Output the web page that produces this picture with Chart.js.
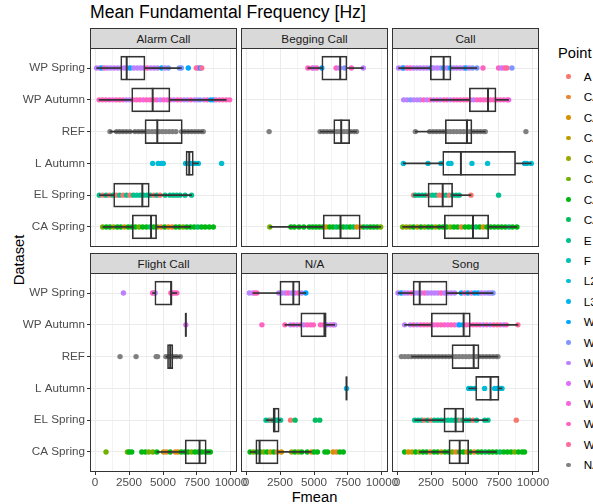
<!DOCTYPE html>
<html>
<head>
<meta charset="utf-8">
<script src="https://cdn.jsdelivr.net/npm/chart.js@4.4.1/dist/chart.umd.min.js"></script>
<style>
    body { margin: 0; background: #fff; overflow: hidden; }
    #root { position: relative; width: 593px; height: 504px; overflow: hidden; font-family: "Liberation Sans", Arial, sans-serif; }
    #root canvas { position: absolute; }
    .txt { position: absolute; white-space: nowrap; line-height: 1; }
    .strip { position: absolute; box-sizing: border-box; background: #D9D9D9; border: 1px solid #333; color: #1A1A1A;
             font-size: 11.7px; line-height: 19px; text-align: center; }
    .dot { position: absolute; width: 4.6px; height: 4.6px; border-radius: 50%; }
</style>
</head>
<body>
<div id="root">
    <div class="txt" style="left:90px; top:4.4px; font-size:17.6px; color:#000;">Mean Fundamental Frequency [Hz]</div>
    <div class="txt" style="left:19px; top:260px; font-size:14.7px; transform:translate(-50%,-50%) rotate(-90deg);">Dataset</div>
    <div class="txt" style="left:314.5px; top:490px; font-size:14.7px; transform:translateX(-50%);">Fmean</div>
    <div class="txt" style="left:558px; top:45.9px; font-size:14.7px;">Point</div>
</div>
<script>
const facetNames = ["Alarm Call", "Begging Call", "Call", "Flight Call", "N/A", "Song"];
const rowNames = ["WP Spring", "WP Autumn", "REF", "L Autumn", "EL Spring", "CA Spring"];
const pointNames = ["A", "CA1", "CA2", "CA3", "CA4", "CA5", "CA6", "CA7", "E", "F", "L2", "L3",
                    "WP1", "WP2", "WP3", "WP4", "WP5", "WP6", "WP7", "NA"];
const xTicks = [0, 1250, 2500, 3750, 5000, 6250, 7500, 8750, 10000];

// points, one list per dataset row: [Fmean, index in pointNames]
const alarmPts = [
    [[120,14],[350,14],[500,12],[700,17],[900,14],[1150,14],[1400,14],[1650,14],[1900,14],[2150,14],[2400,14],[2600,12],[2850,14],[3100,14],[3350,14],[3600,14],[3850,17],[4100,14],[4350,14],[4600,14],[4900,12],[5150,14],[5390,13],[6200,13],[6350,13],[6860,12],[7450,18],[7600,17],[7750,12],[7850,18]],
    [[300,17],[550,17],[800,17],[1050,17],[1300,16],[1550,17],[1800,17],[2050,17],[2300,14],[2550,14],[2800,17],[3050,17],[3300,17],[3550,16],[3800,17],[4050,17],[4300,17],[4550,17],[4800,14],[5050,17],[5300,16],[5550,17],[5800,14],[6050,17],[6300,17],[6550,14],[6800,14],[7050,17],[7300,14],[7500,14],[7720,13],[8010,14],[8250,17],[8500,12],[8700,12],[8900,17],[9150,17],[9400,17],[9650,17],[9900,17]],
    [[1100,19],[1590,19],[1800,19],[2050,19],[2300,19],[2570,19],[2940,19],[3200,19],[3450,19],[3700,19],[3950,19],[4200,19],[4450,19],[4700,19],[4950,19],[5200,19],[5450,19],[5700,19],[5950,19],[6370,19],[6600,19],[6850,19],[7100,19],[7350,19],[7600,19],[7850,19],[7960,19]],
    [[4240,10],[4650,10],[4900,11],[5020,10],[6660,10],[6900,10],[7150,11],[7350,10],[7600,10],[9310,10]],
    [[320,8],[570,0],[820,8],[1070,0],[1320,8],[1570,0],[1820,8],[2070,0],[2320,8],[2570,0],[2820,8],[3070,8],[3320,8],[3570,8],[3820,8],[4070,8],[4320,0],[4550,8],[4780,0],[5150,8],[5510,8],[5760,8],[6000,8],[6250,8],[6620,8],[7100,8]],
    [[560,5],[830,6],[1100,6],[1370,4],[1640,6],[1900,6],[2170,3],[2440,6],[2700,6],[2970,6],[3240,5],[3500,6],[3780,6],[4050,7],[4320,6],[4590,5],[4860,1],[5130,6],[5400,2],[5670,1],[5940,6],[6210,6],[6480,5],[6750,6],[7020,6],[7290,6],[7560,7],[7830,6],[8100,6],[8400,6],[8700,6]]
];
const beggingPts = [
    [[4550,17],[4875,17],[5000,14],[5200,17],[5575,12],[6625,17],[6875,14],[7250,13],[7750,17],[8625,14]],
    [],
    [[1700,19],[5450,19],[5700,19],[5950,19],[6200,19],[6450,19],[6700,19],[6950,19],[7200,19],[7450,19],[7700,19],[7950,19],[8125,19]],
    [],
    [],
    [[1750,5],[3300,6],[3550,6],[3900,6],[4250,6],[4650,6],[4900,6],[5150,6],[5400,6],[5650,6],[5900,2],[6150,6],[6400,6],[6650,7],[6900,6],[7150,6],[7400,7],[7650,6],[7900,7],[8150,2],[8400,1],[8650,6],[8900,7],[9150,6],[9400,6],[9650,6],[9900,5]]
];
const callPts = [
    [[120,14],[370,14],[490,12],[735,17],[980,17],[1220,14],[1470,14],[1710,14],[1960,14],[2200,14],[2450,14],[2520,12],[2700,14],[2950,14],[3200,14],[3430,12],[3680,14],[3920,12],[4160,14],[4400,14],[4650,14],[4900,14],[5070,12],[5300,14],[5550,13],[5880,13],[6320,17],[7470,17],[7700,14],[7900,17],[8085,18],[8450,13]],
    [[490,14],[740,14],[990,13],[1230,14],[1480,14],[1720,14],[1970,17],[2210,14],[2460,17],[2700,14],[2950,17],[3190,14],[3440,17],[3680,17],[3930,14],[4170,17],[4420,17],[4660,17],[4910,17],[5150,17],[5400,17],[5640,14],[5890,17],[6130,17],[6380,17],[6620,17],[6870,17],[7110,17],[7360,17],[7600,17],[7850,17],[8100,17],[8210,16]],
    [[1350,19],[2400,19],[2650,19],[2900,19],[3150,19],[3400,19],[3650,19],[3900,19],[4150,19],[4400,19],[4650,19],[4900,19],[5150,19],[5400,19],[5650,19],[5900,19],[6150,19],[6400,19],[6490,19],[9480,19]],
    [[465,10],[2280,10],[3230,10],[3800,10],[3970,10],[5510,10],[6660,10],[9380,11],[9550,10],[9870,10]],
    [[1225,0],[1350,8],[1600,8],[1850,8],[2100,8],[2350,0],[2600,8],[2850,8],[3100,0],[3350,0],[3600,8],[3850,0],[4100,8],[4350,8],[4580,8],[5440,0],[7470,8]],
    [[415,5],[680,4],[950,5],[1220,6],[1490,3],[1760,6],[2030,5],[2300,6],[2570,6],[2840,4],[3110,6],[3380,6],[3650,6],[3920,5],[4190,6],[4460,6],[4730,1],[5000,6],[5270,6],[5540,6],[5810,7],[6080,6],[6350,2],[6620,6],[6890,6],[7160,6],[7430,6],[7700,6],[7970,6],[8240,7],[8500,6],[8820,6]]
];
const flightPts = [
    [[2090,14],[4230,17],[4350,18],[4420,14],[5580,17],[5700,16],[5850,17],[6020,17]],
    [[6680,15]],
    [[1840,19],[3020,19],[4500,19],[4600,19],[5210,19],[5400,19],[5600,19],[5800,19],[6000,19],[6270,19]],
    [],
    [],
    [[810,5],[2380,5],[2520,6],[2700,6],[3440,6],[3700,6],[3950,5],[4250,5],[4550,6],[5040,3],[5250,1],[5530,6],[5900,1],[6100,2],[6350,6],[6600,6],[6850,6],[7100,5],[7350,6],[7600,6],[7850,6],[8100,6],[8300,6],[8480,6]]
];
const naPts = [
    [[250,14],[500,14],[650,17],[800,17],[2410,14],[2650,14],[2900,14],[3100,17],[3350,14],[3600,14],[3850,17],[4100,14],[4400,12]],
    [[1170,17],[2860,17],[3280,14],[3500,17],[3750,14],[4000,17],[4250,14],[4500,17],[4750,17],[4950,17],[5470,17],[5700,17],[5950,14],[6200,14],[6400,17],[6520,14]],
    [],
    [[7390,11]],
    [[1470,8],[1700,8],[1850,0],[2000,8],[2200,8],[2350,8],[2540,8],[3280,0],[3610,7],[5100,7],[5420,7]],
    [[300,6],[550,5],[800,6],[1050,6],[1300,5],[1550,6],[1800,3],[2050,6],[2300,1],[2600,2],[3350,4],[3600,6],[3850,5],[4100,6],[4500,6],[4800,1],[5000,6],[5250,6],[5800,6],[6000,6],[6400,2],[6650,1],[6900,6],[7150,6]]
];
const songPts = [
    [[75,14],[320,12],[560,14],[800,14],[1050,17],[1290,14],[1540,14],[1780,14],[2030,17],[2270,14],[2520,14],[2760,14],[3010,14],[3250,17],[3500,14],[3740,14],[3990,14],[4240,14],[4730,12],[4980,17],[5220,12],[5470,17],[5710,12],[5960,12],[6200,14],[6450,14],[6700,13],[6900,14],[7060,13]],
    [[560,14],[980,14],[1230,17],[1480,14],[1730,17],[1980,17],[2230,17],[2480,17],[2730,16],[2980,17],[3230,17],[3480,17],[3730,16],[3980,17],[4230,17],[4480,14],[4600,12],[4850,12],[5100,17],[5350,17],[5600,17],[5850,17],[6100,17],[6350,14],[6600,17],[6850,14],[7100,17],[7350,18],[7600,17],[7850,14],[8040,17],[8890,18]],
    [[320,19],[570,19],[820,19],[1070,19],[1320,19],[1570,19],[1820,19],[2070,19],[2320,19],[2570,19],[2820,19],[3070,19],[3320,19],[3570,19],[3820,19],[4070,19],[4320,19],[4570,19],[4820,19],[5070,19],[5320,19],[5570,19],[5820,19],[6070,19],[6320,19],[6570,19],[6820,19],[7070,19],[7320,19],[7420,19]],
    [[5270,10],[5450,10],[5710,10],[6440,10],[7180,10],[7350,11],[7550,10],[7720,10]],
    [[1300,8],[1550,8],[1800,8],[2000,0],[2250,8],[2500,0],[2750,8],[3000,8],[3250,8],[3500,8],[3750,8],[4000,8],[4250,8],[4500,8],[4700,0],[4850,8],[5100,8],[5350,8],[5600,0],[5850,8],[6450,8],[6690,8],[8770,0]],
    [[560,6],[830,2],[1100,3],[1370,6],[1640,5],[1910,6],[2180,6],[2450,1],[2720,6],[2990,6],[3260,3],[3530,6],[3800,6],[4070,5],[4340,1],[4610,6],[4880,6],[5150,2],[5420,6],[5690,1],[5960,6],[6230,6],[6500,7],[6770,6],[7040,6],[7310,6],[7580,7],[7850,6],[8120,6],[8390,6],[8660,5],[8930,6],[9200,6],[9380,6]]
];

// boxplot stats per row: [whisker low, q1, median, q3, whisker high]
const alarmBox = [[120,1890,2330,3676,6350],[300,2695,4240,5510,9650],[1100,3675,4580,6420,7960],[6660,6690,6930,7230,7600],[320,1370,3480,3990,7100],[560,2740,4120,4530,7020]];
const beggingBox = [[4550,5575,6925,7425,8625],null,[5450,6450,7000,7625,8125],null,null,[1750,5675,6950,8400,9900]];
const callBox = [[120,2450,3430,3970,5880],[2460,5320,6690,7280,8210],[1350,3550,5145,5510,6490],[465,3360,4700,8720,9870],[1225,2280,3360,4090,5440],[415,3480,5590,6740,8820]];
const flightBox = [[4230,4400,5600,5650,6020],[6680,6680,6680,6680,6680],[5210,5330,5530,5725,6270],null,null,[4550,6630,7690,8180,8480]];
const naBox = [[500,2490,3480,3960,4400],[2860,4030,5770,5900,6520],null,[7390,7390,7390,7390,7390],[1470,1990,2090,2440,2540],[300,720,1000,2360,4800]];
const songBox = [[75,1180,1670,3680,7060],[560,2520,4900,5390,8890],[1070,4040,5640,6030,7420],[5270,5780,6880,7500,7720],[1300,3450,4310,4900,6690],[1640,3820,4610,5270,7310]];

const facetPts = [alarmPts, beggingPts, callPts, flightPts, naPts, songPts];
const facetBox = [alarmBox, beggingBox, callBox, flightBox, naBox, songBox];

// ggplot-like hue palette (hcl, c=100, l=65)
function hcl(h, c, l) {
    const hr = h * Math.PI / 180;
    const u = c * Math.cos(hr), v = c * Math.sin(hr);
    const Xn = 95.047, Yn = 100, Zn = 108.883;
    const d = Xn + 15 * Yn + 3 * Zn;
    const Y = Yn * Math.pow((l + 16) / 116, 3);
    const up = u / (13 * l) + 4 * Xn / d, vp = v / (13 * l) + 9 * Yn / d;
    const X = Y * 9 * up / (4 * vp), Z = Y * (12 - 3 * up - 20 * vp) / (4 * vp);
    const lin = [
        3.2404542 * X - 1.5371385 * Y - 0.4985314 * Z,
        -0.9692660 * X + 1.8760108 * Y + 0.0415560 * Z,
        0.0556434 * X - 0.2040259 * Y + 1.0572252 * Z
    ];
    const rgb = lin.map(t => {
        t = Math.max(0, Math.min(1, t / 100));
        t = t <= 0.0031308 ? 12.92 * t : 1.055 * Math.pow(t, 1 / 2.4) - 0.055;
        return Math.round(255 * t);
    });
    return "rgb(" + rgb.join(",") + ")";
}
const nHue = pointNames.length - 1;
const palette = pointNames.map((n, i) => i < nHue ? hcl(15 + 360 * i / nHue, 100, 65) : "#7F7F7F");

const root = document.getElementById("root");
const FONT = "'Liberation Sans', Arial, sans-serif";
const colLeft = [91, 242, 393];
const rowTop = [49, 274];
const stripTop = [28, 253];
const panelW = 145, panelH = 197;

// legend
pointNames.forEach((name, i) => {
    const cy = 76.7 + 20.44 * i;
    const dot = document.createElement("div");
    dot.className = "dot";
    dot.style.left = (568.7 - 2.3) + "px";
    dot.style.top = (cy - 2.3) + "px";
    dot.style.background = palette[i];
    root.appendChild(dot);
    const lab = document.createElement("div");
    lab.className = "txt";
    lab.style.cssText += "left:583.7px; top:" + (cy - 5.7) + "px; font-size:11.7px; color:#000;";
    lab.textContent = name;
    root.appendChild(lab);
});

const panelBorder = {
    id: "panelBorder",
    afterDraw(chart) {
        const a = chart.chartArea, ctx = chart.ctx;
        ctx.save();
        ctx.strokeStyle = "#333333";
        ctx.lineWidth = 1;
        ctx.strokeRect(a.left - 0.5, a.top - 0.5, a.right - a.left + 1, a.bottom - a.top + 1);
        ctx.restore();
    }
};

const isMajor = v => v % 2500 === 0;
const tickIsMajor = ctx => !!ctx.tick && isMajor(ctx.tick.value);

facetNames.forEach((name, k) => {
    const r = Math.floor(k / 3), c = k % 3;
    const pts = facetPts[k], box = facetBox[k];

    const strip = document.createElement("div");
    strip.className = "strip";
    strip.style.left = (colLeft[c] - 1) + "px";
    strip.style.top = stripTop[r] + "px";
    strip.style.width = (panelW + 2) + "px";
    strip.style.height = "21px";
    strip.textContent = name;
    root.appendChild(strip);

    const yw = c === 0 ? colLeft[0] : 3;
    const xh = r === 1 ? 30 : 3;
    const padR = 22;
    const canvas = document.createElement("canvas");
    canvas.width = yw + panelW + padR;
    canvas.height = 3 + panelH + xh;
    canvas.style.left = (colLeft[c] - yw) + "px";
    canvas.style.top = (rowTop[r] - 3) + "px";
    root.appendChild(canvas);

    const rows = [];
    box.forEach((b, i) => { if (b) rows.push([b, i]); });

    new Chart(canvas, {
        type: "bar",
        data: {
            datasets: [
                {
                    type: "bar", indexAxis: "y", stack: "box", order: 0,
                    data: rows.map(([b, i]) => ({ y: i, x: [b[1], b[3]] })),
                    backgroundColor: "rgba(0,0,0,0)", borderColor: "#333333",
                    borderWidth: 1, borderSkipped: false, barThickness: 24
                },
                {
                    type: "bar", indexAxis: "y", stack: "box", order: 0,
                    data: rows.map(([b, i]) => ({ y: i, x: [b[0], b[1]] })),
                    backgroundColor: "#333333", borderWidth: 0, barThickness: 1
                },
                {
                    type: "bar", indexAxis: "y", stack: "box", order: 0,
                    data: rows.map(([b, i]) => ({ y: i, x: [b[3], b[4]] })),
                    backgroundColor: "#333333", borderWidth: 0, barThickness: 1
                },
                {
                    type: "scatter", order: 0,
                    data: rows.map(([b, i]) => ({ x: b[2], y: i })),
                    pointStyle: "line", pointRotation: 90, pointRadius: 12,
                    pointBorderColor: "#333333", pointBorderWidth: 2
                },
                {
                    type: "scatter", order: 1,
                    data: pts.flatMap((row, i) => row.map(p => ({ x: p[0], y: i }))),
                    pointBackgroundColor: pts.flatMap(row => row.map(p => palette[p[1]])),
                    pointBorderWidth: 0, pointRadius: 2.7
                }
            ]
        },
        options: {
            responsive: false,
            devicePixelRatio: 1,
            animation: false,
            events: [],
            layout: { autoPadding: false, padding: { top: 3, right: padR, left: 0, bottom: 0 } },
            plugins: { legend: { display: false }, tooltip: { enabled: false } },
            scales: {
                x: {
                    type: "linear", min: -295, max: 10368, bounds: "data",
                    offset: false, stacked: false,
                    afterBuildTicks: s => { s.ticks = xTicks.map(v => ({ value: v })); },
                    afterFit: s => { s.height = xh; s.paddingLeft = 0; s.paddingRight = 0; },
                    border: { display: false },
                    grid: {
                        offset: false,
                        color: ctx => tickIsMajor(ctx) ? "#EBEBEB" : "#F3F3F3",
                        lineWidth: 1,
                        drawTicks: r === 1,
                        tickLength: 4,
                        tickColor: ctx => tickIsMajor(ctx) ? "#333333" : "rgba(0,0,0,0)"
                    },
                    ticks: {
                        display: r === 1, autoSkip: false, maxRotation: 0, padding: 1,
                        color: "#4D4D4D", font: { family: FONT, size: 11.7 },
                        callback: v => isMajor(v) ? String(v) : ""
                    }
                },
                y: {
                    type: "linear", min: -0.6, max: 5.6, reverse: true, bounds: "data",
                    offset: false,
                    afterBuildTicks: s => { s.ticks = rowNames.map((n, i) => ({ value: i })); },
                    afterFit: s => { s.width = yw; s.paddingTop = 0; s.paddingBottom = 0; },
                    border: { display: false },
                    grid: { offset: false, color: "#EBEBEB", lineWidth: 1, drawTicks: c === 0, tickLength: 4, tickColor: "#333333" },
                    ticks: {
                        display: c === 0, autoSkip: false, padding: 2,
                        color: "#4D4D4D", font: { family: FONT, size: 11.7 },
                        callback: v => rowNames[v]
                    }
                }
            }
        },
        plugins: [panelBorder]
    });
});
</script>
</body>
</html>
